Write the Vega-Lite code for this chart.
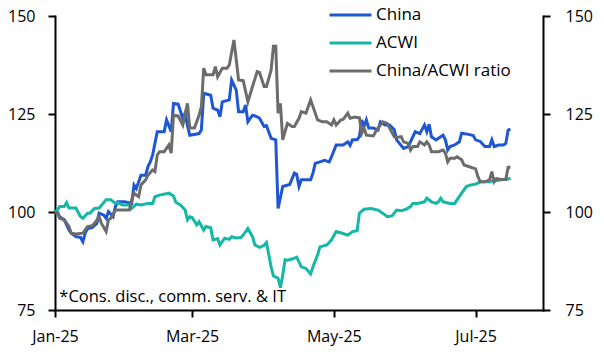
{
  "$schema": "https://vega.github.io/schema/vega-lite/v6.json",
  "width": 488,
  "height": 294,
  "autosize": {"type": "none"},
  "padding": {"left": 55, "top": 16, "right": 61, "bottom": 43},
  "background": "white",
  "config": {
    "font": "Open Sans",
    "view": {"stroke": null},
    "axis": {"labelFont": "Open Sans", "labelFontSize": 16, "labelColor": "black", "domainColor": "black", "domainWidth": 2, "tickColor": "black", "tickWidth": 2, "tickSize": 7, "grid": false, "title": null, "domainCap": "square"},
    "legend": {"labelFont": "Open Sans", "labelFontSize": 17, "labelColor": "black"}
  },
  "datasets": {
    "china": [
      {"date":"2025-01-01","v":100},{"date":"2025-01-02","v":100},{"date":"2025-01-03","v":98.8},{"date":"2025-01-05","v":98},{"date":"2025-01-07","v":95.4},{"date":"2025-01-08","v":94.6},{"date":"2025-01-10","v":93.7},{"date":"2025-01-12","v":93.5},{"date":"2025-01-13","v":92.4},{"date":"2025-01-14","v":94.6},{"date":"2025-01-15","v":95.8},{"date":"2025-01-17","v":96},{"date":"2025-01-19","v":97.1},{"date":"2025-01-20","v":99.7},{"date":"2025-01-22","v":99.2},{"date":"2025-01-23","v":98.4},{"date":"2025-01-24","v":100.1},{"date":"2025-01-26","v":98.8},{"date":"2025-01-27","v":101.4},{"date":"2025-01-28","v":102.6},{"date":"2025-01-31","v":102.6},
      {"date":"2025-02-03","v":102.2},{"date":"2025-02-04","v":106.9},{"date":"2025-02-05","v":106},{"date":"2025-02-07","v":109.4},{"date":"2025-02-09","v":109.4},{"date":"2025-02-10","v":111.6},{"date":"2025-02-11","v":112.8},{"date":"2025-02-12","v":114.5},{"date":"2025-02-14","v":120.5},{"date":"2025-02-17","v":120.5},{"date":"2025-02-18","v":123.5},{"date":"2025-02-20","v":120.5},{"date":"2025-02-21","v":127.7},{"date":"2025-02-23","v":127.5},{"date":"2025-02-25","v":123.9},{"date":"2025-02-26","v":125.2},{"date":"2025-02-27","v":122},{"date":"2025-02-28","v":119.6},
      {"date":"2025-03-04","v":120},{"date":"2025-03-05","v":121},{"date":"2025-03-06","v":130.3},{"date":"2025-03-09","v":129.8},{"date":"2025-03-10","v":126.5},{"date":"2025-03-12","v":126},{"date":"2025-03-13","v":124.3},{"date":"2025-03-14","v":128.1},{"date":"2025-03-17","v":128.6},{"date":"2025-03-18","v":133.7},{"date":"2025-03-20","v":131.1},{"date":"2025-03-21","v":125.6},{"date":"2025-03-23","v":125.6},{"date":"2025-03-24","v":127.3},{"date":"2025-03-25","v":123},{"date":"2025-03-27","v":124.7},{"date":"2025-03-29","v":124.3},{"date":"2025-03-30","v":123.9},
      {"date":"2025-04-01","v":121.8},{"date":"2025-04-02","v":122},{"date":"2025-04-04","v":118.8},{"date":"2025-04-06","v":118.4},{"date":"2025-04-07","v":100.9},{"date":"2025-04-09","v":106.5},{"date":"2025-04-12","v":107},{"date":"2025-04-14","v":109.9},{"date":"2025-04-15","v":109.6},{"date":"2025-04-16","v":106.5},{"date":"2025-04-17","v":108.2},{"date":"2025-04-21","v":108.2},{"date":"2025-04-22","v":109.9},{"date":"2025-04-23","v":112.4},{"date":"2025-04-25","v":112.8},{"date":"2025-04-27","v":113.2},{"date":"2025-04-29","v":112.8},{"date":"2025-04-30","v":114.1},
      {"date":"2025-05-02","v":117.1},{"date":"2025-05-05","v":117.1},{"date":"2025-05-07","v":117.9},{"date":"2025-05-08","v":117},{"date":"2025-05-09","v":118.4},{"date":"2025-05-11","v":118.4},{"date":"2025-05-12","v":119.2},{"date":"2025-05-13","v":123.5},{"date":"2025-05-14","v":121.8},{"date":"2025-05-15","v":123.5},{"date":"2025-05-16","v":121.4},{"date":"2025-05-18","v":121.4},{"date":"2025-05-20","v":120.9},{"date":"2025-05-21","v":123},{"date":"2025-05-23","v":122.2},{"date":"2025-05-25","v":122.2},{"date":"2025-05-27","v":121},{"date":"2025-05-28","v":118.4},{"date":"2025-05-31","v":116.2},
      {"date":"2025-06-02","v":116.7},{"date":"2025-06-04","v":119.2},{"date":"2025-06-05","v":120.5},{"date":"2025-06-07","v":120},{"date":"2025-06-09","v":122.2},{"date":"2025-06-10","v":120.5},{"date":"2025-06-11","v":122.4},{"date":"2025-06-12","v":119.2},{"date":"2025-06-14","v":118.4},{"date":"2025-06-15","v":118.8},{"date":"2025-06-17","v":119.6},{"date":"2025-06-18","v":118.4},{"date":"2025-06-19","v":115.8},{"date":"2025-06-20","v":116.7},{"date":"2025-06-22","v":117.1},{"date":"2025-06-24","v":117.9},{"date":"2025-06-25","v":120.1},{"date":"2025-06-28","v":119.8},{"date":"2025-06-30","v":119.5},
      {"date":"2025-07-01","v":118.4},{"date":"2025-07-03","v":118},{"date":"2025-07-05","v":116.7},{"date":"2025-07-07","v":116.7},{"date":"2025-07-08","v":118.4},{"date":"2025-07-09","v":116.7},{"date":"2025-07-11","v":117.1},{"date":"2025-07-13","v":117.1},{"date":"2025-07-14","v":117.5},{"date":"2025-07-15","v":120.9},{"date":"2025-07-16","v":121.1}
    ],
    "acwi": [
      {"date":"2025-01-01","v":100},{"date":"2025-01-02","v":100.5},{"date":"2025-01-03","v":101.4},{"date":"2025-01-05","v":101.4},{"date":"2025-01-06","v":102.4},{"date":"2025-01-07","v":101},{"date":"2025-01-10","v":101},{"date":"2025-01-12","v":98.8},{"date":"2025-01-13","v":98.4},{"date":"2025-01-15","v":99.7},{"date":"2025-01-16","v":99.7},{"date":"2025-01-18","v":100.9},{"date":"2025-01-20","v":101},{"date":"2025-01-23","v":103.1},{"date":"2025-01-25","v":103.1},{"date":"2025-01-27","v":102.2},{"date":"2025-01-28","v":102.4},{"date":"2025-01-30","v":101.8},
      {"date":"2025-02-02","v":101.8},{"date":"2025-02-03","v":100.9},{"date":"2025-02-05","v":102},{"date":"2025-02-07","v":101.8},{"date":"2025-02-10","v":102.2},{"date":"2025-02-12","v":102.2},{"date":"2025-02-13","v":103.9},{"date":"2025-02-15","v":104.3},{"date":"2025-02-19","v":104.8},{"date":"2025-02-21","v":104.1},{"date":"2025-02-22","v":102.5},{"date":"2025-02-24","v":101.8},{"date":"2025-02-26","v":100.5},{"date":"2025-02-27","v":98},{"date":"2025-02-28","v":98.8},
      {"date":"2025-03-01","v":98.6},{"date":"2025-03-03","v":96.7},{"date":"2025-03-04","v":97.5},{"date":"2025-03-06","v":95.4},{"date":"2025-03-07","v":96.3},{"date":"2025-03-09","v":96},{"date":"2025-03-10","v":92.9},{"date":"2025-03-12","v":93.2},{"date":"2025-03-13","v":91.6},{"date":"2025-03-15","v":93.3},{"date":"2025-03-17","v":93},{"date":"2025-03-18","v":93.7},{"date":"2025-03-20","v":93.4},{"date":"2025-03-22","v":93.5},{"date":"2025-03-23","v":94.1},{"date":"2025-03-25","v":95.8},{"date":"2025-03-27","v":93.7},{"date":"2025-03-28","v":91.6},{"date":"2025-03-30","v":91},
      {"date":"2025-04-01","v":91.5},{"date":"2025-04-02","v":92.2},{"date":"2025-04-04","v":86},{"date":"2025-04-05","v":83.7},{"date":"2025-04-07","v":83.1},{"date":"2025-04-08","v":80.7},{"date":"2025-04-09","v":83.9},{"date":"2025-04-10","v":87.8},{"date":"2025-04-11","v":87.7},{"date":"2025-04-13","v":88},{"date":"2025-04-15","v":88.5},{"date":"2025-04-17","v":86},{"date":"2025-04-19","v":85.6},{"date":"2025-04-21","v":84.2},{"date":"2025-04-22","v":86},{"date":"2025-04-24","v":89},{"date":"2025-04-25","v":91.1},{"date":"2025-04-28","v":91.6},{"date":"2025-04-30","v":92.9},
      {"date":"2025-05-02","v":95},{"date":"2025-05-04","v":94.7},{"date":"2025-05-07","v":94.1},{"date":"2025-05-09","v":95},{"date":"2025-05-11","v":95.2},{"date":"2025-05-12","v":99.7},{"date":"2025-05-14","v":100.7},{"date":"2025-05-17","v":100.9},{"date":"2025-05-20","v":100.5},{"date":"2025-05-22","v":99.7},{"date":"2025-05-24","v":98.8},{"date":"2025-05-26","v":99},{"date":"2025-05-28","v":100.5},{"date":"2025-05-30","v":100.3},
      {"date":"2025-06-01","v":100.7},{"date":"2025-06-03","v":101.4},{"date":"2025-06-04","v":102.2},{"date":"2025-06-06","v":102.2},{"date":"2025-06-09","v":102.6},{"date":"2025-06-10","v":103.5},{"date":"2025-06-12","v":102.6},{"date":"2025-06-14","v":102.2},{"date":"2025-06-15","v":102.6},{"date":"2025-06-16","v":103.5},{"date":"2025-06-17","v":102.6},{"date":"2025-06-20","v":102.2},{"date":"2025-06-22","v":102.2},{"date":"2025-06-23","v":103.1},{"date":"2025-06-25","v":104.8},{"date":"2025-06-27","v":106.5},{"date":"2025-06-29","v":106.9},
      {"date":"2025-07-01","v":107.1},{"date":"2025-07-03","v":107.7},{"date":"2025-07-06","v":107.7},{"date":"2025-07-09","v":107.9},{"date":"2025-07-12","v":108.2},{"date":"2025-07-15","v":108.4},{"date":"2025-07-16","v":108.6}
    ],
    "ratio": [
      {"date":"2025-01-01","v":100},{"date":"2025-01-02","v":99.7},{"date":"2025-01-03","v":98.4},{"date":"2025-01-05","v":98},{"date":"2025-01-07","v":96.3},{"date":"2025-01-08","v":94.6},{"date":"2025-01-10","v":94.4},{"date":"2025-01-13","v":94.6},{"date":"2025-01-15","v":96.3},{"date":"2025-01-17","v":96.5},{"date":"2025-01-18","v":97.1},{"date":"2025-01-20","v":98.8},{"date":"2025-01-21","v":97.1},{"date":"2025-01-23","v":95},{"date":"2025-01-24","v":98},{"date":"2025-01-25","v":98.4},{"date":"2025-01-27","v":100.5},{"date":"2025-01-30","v":100.5},
      {"date":"2025-02-02","v":100.5},{"date":"2025-02-03","v":103.1},{"date":"2025-02-04","v":104.8},{"date":"2025-02-06","v":103.9},{"date":"2025-02-07","v":106.9},{"date":"2025-02-09","v":108.2},{"date":"2025-02-10","v":109.4},{"date":"2025-02-12","v":110.7},{"date":"2025-02-13","v":110.3},{"date":"2025-02-14","v":114.5},{"date":"2025-02-15","v":115.4},{"date":"2025-02-17","v":115.4},{"date":"2025-02-19","v":117.1},{"date":"2025-02-20","v":115},{"date":"2025-02-21","v":124.7},{"date":"2025-02-23","v":124.5},{"date":"2025-02-25","v":122.2},{"date":"2025-02-27","v":127.7},{"date":"2025-02-28","v":121.4},
      {"date":"2025-03-02","v":121.4},{"date":"2025-03-04","v":124.7},{"date":"2025-03-05","v":126.9},{"date":"2025-03-06","v":136.7},{"date":"2025-03-07","v":135},{"date":"2025-03-10","v":135},{"date":"2025-03-11","v":137.1},{"date":"2025-03-12","v":134.5},{"date":"2025-03-14","v":136.7},{"date":"2025-03-16","v":136.7},{"date":"2025-03-17","v":137.5},{"date":"2025-03-19","v":143.9},{"date":"2025-03-21","v":133.7},{"date":"2025-03-23","v":133.5},{"date":"2025-03-25","v":128.1},{"date":"2025-03-27","v":132},{"date":"2025-03-29","v":135.8},{"date":"2025-03-30","v":135.6},
      {"date":"2025-04-01","v":132},{"date":"2025-04-02","v":132},{"date":"2025-04-04","v":136.2},{"date":"2025-04-05","v":142.3},{"date":"2025-04-06","v":142.3},{"date":"2025-04-07","v":125.2},{"date":"2025-04-08","v":127.7},{"date":"2025-04-09","v":118.4},{"date":"2025-04-11","v":122.6},{"date":"2025-04-13","v":121.8},{"date":"2025-04-14","v":121.8},{"date":"2025-04-16","v":123.9},{"date":"2025-04-17","v":125.6},{"date":"2025-04-19","v":125.2},{"date":"2025-04-21","v":128.6},{"date":"2025-04-22","v":126.9},{"date":"2025-04-24","v":123.5},{"date":"2025-04-26","v":123},{"date":"2025-04-28","v":123},{"date":"2025-04-30","v":122.2},
      {"date":"2025-05-01","v":123.5},{"date":"2025-05-02","v":122.2},{"date":"2025-05-04","v":123.5},{"date":"2025-05-05","v":123.6},{"date":"2025-05-07","v":125.2},{"date":"2025-05-08","v":123.9},{"date":"2025-05-10","v":124.2},{"date":"2025-05-12","v":124},{"date":"2025-05-13","v":120.1},{"date":"2025-05-14","v":121.4},{"date":"2025-05-15","v":119.6},{"date":"2025-05-18","v":119.4},{"date":"2025-05-19","v":120.5},{"date":"2025-05-20","v":121.4},{"date":"2025-05-22","v":123},{"date":"2025-05-24","v":122.6},{"date":"2025-05-25","v":121.4},{"date":"2025-05-27","v":119.2},{"date":"2025-05-28","v":119},{"date":"2025-05-30","v":119.2},{"date":"2025-05-31","v":117.9},
      {"date":"2025-06-02","v":117.5},{"date":"2025-06-03","v":115.8},{"date":"2025-06-04","v":116.7},{"date":"2025-06-06","v":116.7},{"date":"2025-06-07","v":117.9},{"date":"2025-06-09","v":117.1},{"date":"2025-06-10","v":117.9},{"date":"2025-06-11","v":117.1},{"date":"2025-06-12","v":115.4},{"date":"2025-06-15","v":115.4},{"date":"2025-06-17","v":115.8},{"date":"2025-06-18","v":115},{"date":"2025-06-19","v":112.8},{"date":"2025-06-20","v":113.7},{"date":"2025-06-22","v":113.7},{"date":"2025-06-23","v":114.1},{"date":"2025-06-25","v":113.3},{"date":"2025-06-26","v":112},{"date":"2025-06-28","v":111.6},{"date":"2025-06-30","v":111.2},
      {"date":"2025-07-01","v":111},{"date":"2025-07-02","v":109},{"date":"2025-07-03","v":107.7},{"date":"2025-07-05","v":107.7},{"date":"2025-07-07","v":108.2},{"date":"2025-07-08","v":110.3},{"date":"2025-07-09","v":107.7},{"date":"2025-07-10","v":108.5},{"date":"2025-07-12","v":108.3},{"date":"2025-07-14","v":108.3},{"date":"2025-07-15","v":111.4},{"date":"2025-07-16","v":111.4}
    ],
    "note": [
      {"date":"2025-01-02","v":78.3,"label":"*Cons. disc., comm. serv. & IT"}
    ]
  },
  "layer": [
    {
      "mark": {"type": "rule", "color": "black", "strokeWidth": 2},
      "encoding": {
        "y": {"datum": 100, "type": "quantitative", "scale": {"domain": [75, 150], "nice": false}, "axis": {"orient": "right", "values": [75, 100, 125, 150], "labelPadding": 15, "labelAlign": "left"}}
      }
    },
    {
      "layer": [
        {"data": {"name": "china"}, "mark": {"type": "line", "strokeWidth": 3}, "encoding": {"x": {"field": "date", "type": "temporal"}, "y": {"field": "v", "type": "quantitative"}, "color": {"datum": "China"}}},
        {"data": {"name": "acwi"}, "mark": {"type": "line", "strokeWidth": 3}, "encoding": {"x": {"field": "date", "type": "temporal"}, "y": {"field": "v", "type": "quantitative"}, "color": {"datum": "ACWI"}}},
        {"data": {"name": "ratio"}, "mark": {"type": "line", "strokeWidth": 3}, "encoding": {"x": {"field": "date", "type": "temporal"}, "y": {"field": "v", "type": "quantitative"}, "color": {"datum": "China/ACWI ratio"}}},
        {"data": {"name": "note"}, "mark": {"type": "text", "align": "left", "baseline": "middle", "fontSize": 16.5, "font": "Open Sans", "color": "black", "dx": 2}, "encoding": {"x": {"field": "date", "type": "temporal"}, "y": {"field": "v", "type": "quantitative"}, "text": {"field": "label"}}}
      ],
      "encoding": {
        "x": {"field": "date", "type": "temporal", "scale": {"type": "utc", "domain": [{"year": 2025, "month": 1, "date": 1, "utc": true}, {"year": 2025, "month": 7, "date": 30, "utc": true}]}, "axis": {"values": [{"year": 2025, "month": 1, "date": 1, "utc": true}, {"year": 2025, "month": 3, "date": 1, "utc": true}, {"year": 2025, "month": 5, "date": 1, "utc": true}, {"year": 2025, "month": 7, "date": 1, "utc": true}], "format": "%b-%y", "labelPadding": 11, "labelFlush": false}},
        "y": {"field": "v", "type": "quantitative", "scale": {"domain": [75, 150], "nice": false}, "axis": {"orient": "left", "values": [75, 100, 125, 150], "labelPadding": 13}},
        "color": {"type": "nominal", "scale": {"domain": ["China", "ACWI", "China/ACWI ratio"], "range": ["#1f56d2", "#15b8a6", "#6c6c6c"]}, "legend": {"title": null, "orient": "none", "legendX": 273, "legendY": -11, "symbolType": "stroke", "symbolSize": 1764, "symbolStrokeWidth": 3, "clipHeight": 20, "rowPadding": 8, "labelOffset": 3}}
      }
    }
  ],
  "resolve": {"scale": {"y": "independent"}}
}
